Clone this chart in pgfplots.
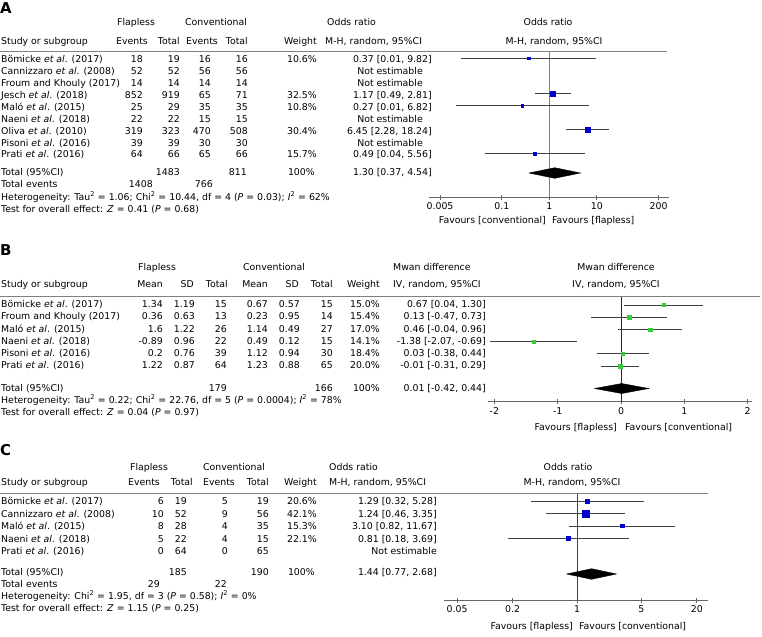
\documentclass[border=0pt]{standalone}
\usepackage{fontspec}
\setmainfont{DejaVu Sans}
\usepackage{pgfplots}
\pgfplotsset{compat=1.18}
\definecolor{fpblue}{RGB}{0,0,204}
\definecolor{fpgreen}{RGB}{51,204,51}
\newcommand\tf{\fontsize{9.4}{11}\selectfont}
\newcommand\ea{\textit{et al}.}
\newcommand\Lt[3]{\node[anchor=mid west] at (#1,#2) {#3};}
\newcommand\Rt[3]{\node[anchor=mid east] at (#1,#2) {#3};}
\newcommand\Ct[3]{\node[anchor=mid] at (#1,#2) {#3};}
\newcommand\sq{\textsuperscript{2}}
\pgfplotsset{
  fp/.style={scale only axis, axis x line*=bottom, axis y line=none,
    x axis line style={-,draw=black!60,line width=0.8bp},
    tick align=center, major tick length=5bp,
    xtick style={draw=black!60,line width=0.8bp}, ytick=\empty,
    xminorticks=false,
    xticklabel style={font=\tf, inner sep=0pt, yshift=-3bp}, clip=false},
  ci/.style={draw=black!75, line width=0.8bp, mark=none, forget plot},
  sqb/.style={only marks, mark=square*, color=fpblue, forget plot},
  sqg/.style={only marks, mark=square*, color=fpgreen, forget plot},
  dia/.style={fill=black, draw=black, line width=0.4bp, mark=none, forget plot},
}
\begin{document}
\begin{tikzpicture}
\path[use as bounding box] (0,0) rectangle (762bp,-637bp);

% ================= PANEL A plot =================
\begin{axis}[fp, at={(429bp,-197bp)}, anchor=south west, width=240bp, height=146bp,
  xmode=log, xmin=0.00293, xmax=331, ymin=-197, ymax=-51,
  xtick={0.005,0.1,1,10,200}, xticklabels={0.005,0.1,1,10,200}]
\addplot[draw=black!50, line width=1.5bp, forget plot] coordinates {(1,-51) (1,-197)};
% Bomicke
\addplot[ci] coordinates {(0.0139,-58) (9.82,-58)};
\addplot[sqb, mark size=1.2bp] coordinates {(0.37,-58)};
% Jesch
\addplot[ci] coordinates {(0.49,-93.7) (2.81,-93.7)};
\addplot[sqb, mark size=2.6bp] coordinates {(1.17,-93.7)};
% Malo
\addplot[ci] coordinates {(0.0107,-105.6) (6.82,-105.6)};
\addplot[sqb, mark size=1.2bp] coordinates {(0.27,-105.6)};
% Oliva
\addplot[ci] coordinates {(2.28,-129.4) (18.24,-129.4)};
\addplot[sqb, mark size=2.5bp] coordinates {(6.45,-129.4)};
% Prati
\addplot[ci] coordinates {(0.0432,-153.2) (5.56,-153.2)};
\addplot[sqb, mark size=1.5bp] coordinates {(0.49,-153.2)};
% Total
\addplot[dia] coordinates {(0.37,-173) (1.30,-167.7) (4.54,-173) (1.30,-178.3) (0.37,-173)};
\end{axis}

% ================= PANEL B plot =================
\begin{axis}[fp, at={(488bp,-401.7bp)}, anchor=south west, width=264bp, height=105.7bp,
  xmin=-2.101, xmax=2.069, ymin=-401.7, ymax=-296,
  xtick={-2,-1,0,1,2}, xticklabels={-2,-1,0,1,2}]
\addplot[draw=black!85, line width=0.8bp, forget plot] coordinates {(0,-296) (0,-401.7)};
\addplot[ci] coordinates {(0.04,-305) (1.30,-305)};
\addplot[sqg, mark size=1.6bp] coordinates {(0.67,-305)};
\addplot[ci] coordinates {(-0.47,-317.2) (0.73,-317.2)};
\addplot[sqg, mark size=1.6bp] coordinates {(0.13,-317.2)};
\addplot[ci] coordinates {(-0.04,-329.4) (0.96,-329.4)};
\addplot[sqg, mark size=1.7bp] coordinates {(0.46,-329.4)};
\addplot[ci] coordinates {(-2.07,-341.6) (-0.69,-341.6)};
\addplot[sqg, mark size=1.55bp] coordinates {(-1.38,-341.6)};
\addplot[ci] coordinates {(-0.38,-353.8) (0.44,-353.8)};
\addplot[sqg, mark size=1.75bp] coordinates {(0.03,-353.8)};
\addplot[ci] coordinates {(-0.31,-366) (0.29,-366)};
\addplot[sqg, mark size=1.8bp] coordinates {(-0.01,-366)};
\addplot[dia] coordinates {(-0.42,-388.5) (0.01,-383.5) (0.44,-388.5) (0.01,-393.5) (-0.42,-388.5)};
\end{axis}

% ================= PANEL C plot =================
\begin{axis}[fp, at={(444bp,-600bp)}, anchor=south west, width=264bp, height=107bp,
  xmode=log, xmin=0.0360, xmax=26.45, ymin=-600, ymax=-493,
  xtick={0.05,0.2,1,5,20}, xticklabels={0.05,0.2,1,5,20}]
\addplot[draw=black!75, line width=0.9bp, forget plot] coordinates {(1,-493) (1,-600)};
\addplot[ci] coordinates {(0.32,-501) (5.28,-501)};
\addplot[sqb, mark size=1.8bp] coordinates {(1.29,-501)};
\addplot[ci] coordinates {(0.46,-513.5) (3.35,-513.5)};
\addplot[sqb, mark size=3.2bp] coordinates {(1.24,-513.5)};
\addplot[ci] coordinates {(0.82,-526) (11.67,-526)};
\addplot[sqb, mark size=1.6bp] coordinates {(3.10,-526)};
\addplot[ci] coordinates {(0.18,-538.5) (3.69,-538.5)};
\addplot[sqb, mark size=1.9bp] coordinates {(0.81,-538.5)};
\addplot[dia] coordinates {(0.77,-574) (1.44,-568.7) (2.68,-574) (1.44,-579.3) (0.77,-574)};
\end{axis}

\begin{scope}[x=1bp,y=-1bp, every node/.style={font=\tf, inner sep=0pt}]
% rules
\draw[black!50, line width=1bp] (0,51) -- (667,51);
\draw[black!50, line width=1bp] (0,296) -- (760,296);
\draw[black!50, line width=1bp] (0,493) -- (708,493);

% ---------- Panel A text ----------
\node[anchor=mid west, font=\fontsize{15}{15}\selectfont\bfseries] at (0,11) {A};
\Lt{117}{23}{Flapless}
\Lt{185}{23}{Conventional}
\Lt{327}{23}{Odds ratio}
\Ct{548}{23}{Odds ratio}
\Lt{1}{42}{Study or subgroup}
\Rt{148}{42}{Events}
\Rt{180}{42}{Total}
\Rt{218}{42}{Events}
\Rt{248}{42}{Total}
\Rt{317}{42}{Weight}
\Lt{325}{42}{M-H, random, 95\%CI}
\Ct{554}{42}{M-H, random, 95\%CI}
% rows
\Lt{1}{60}{Bömicke \ea{} (2017)}\Rt{143}{60}{18}\Rt{180}{60}{19}\Rt{211}{60}{16}\Rt{248}{60}{16}\Rt{317}{60}{10.6\%}\Rt{432}{60}{0.37 [0.01, 9.82]}
\Lt{1}{71.9}{Cannizzaro \ea{} (2008)}\Rt{143}{71.9}{52}\Rt{180}{71.9}{52}\Rt{211}{71.9}{56}\Rt{248}{71.9}{56}\Rt{423}{71.9}{Not estimable}
\Lt{1}{83.8}{Froum and Khouly (2017)}\Rt{143}{83.8}{14}\Rt{180}{83.8}{14}\Rt{211}{83.8}{14}\Rt{248}{83.8}{14}\Rt{423}{83.8}{Not estimable}
\Lt{1}{95.7}{Jesch \ea{} (2018)}\Rt{143}{95.7}{852}\Rt{180}{95.7}{919}\Rt{211}{95.7}{65}\Rt{248}{95.7}{71}\Rt{317}{95.7}{32.5\%}\Rt{432}{95.7}{1.17 [0.49, 2.81]}
\Lt{1}{107.6}{Maló \ea{} (2015)}\Rt{143}{107.6}{25}\Rt{180}{107.6}{29}\Rt{211}{107.6}{35}\Rt{248}{107.6}{35}\Rt{317}{107.6}{10.8\%}\Rt{432}{107.6}{0.27 [0.01, 6.82]}
\Lt{1}{119.5}{Naeni \ea{} (2018)}\Rt{143}{119.5}{22}\Rt{180}{119.5}{22}\Rt{211}{119.5}{15}\Rt{248}{119.5}{15}\Rt{423}{119.5}{Not estimable}
\Lt{1}{131.4}{Oliva \ea{} (2010)}\Rt{143}{131.4}{319}\Rt{180}{131.4}{323}\Rt{211}{131.4}{470}\Rt{248}{131.4}{508}\Rt{317}{131.4}{30.4\%}\Rt{432}{131.4}{6.45 [2.28, 18.24]}
\Lt{1}{143.3}{Pisoni \ea{} (2016)}\Rt{143}{143.3}{39}\Rt{180}{143.3}{39}\Rt{211}{143.3}{30}\Rt{248}{143.3}{30}\Rt{423}{143.3}{Not estimable}
\Lt{1}{155.2}{Prati \ea{} (2016)}\Rt{143}{155.2}{64}\Rt{180}{155.2}{66}\Rt{211}{155.2}{65}\Rt{248}{155.2}{66}\Rt{317}{155.2}{15.7\%}\Rt{432}{155.2}{0.49 [0.04, 5.56]}
\Lt{1}{173}{Total (95\%CI)}\Rt{180}{173}{1483}\Rt{247}{173}{811}\Rt{315}{173}{100\%}\Rt{432}{173}{1.30 [0.37, 4.54]}
\Lt{1}{185}{Total events}\Rt{153}{185}{1408}\Rt{213}{185}{766}
\Lt{1}{197.5}{Heterogeneity: Tau\sq{} = 1.06; Chi\sq{} = 10.44, df = 4 (\textit{P} = 0.03); \textit{I}\sq{} = 62\%}
\Lt{1}{210}{Test for overall effect: \textit{Z} = 0.41 (\textit{P} = 0.68)}
\Rt{546}{221}{Favours [conventional]}
\Lt{552}{221}{Favours [flapless]}

% ---------- Panel B text ----------
\node[anchor=mid west, font=\fontsize{15}{15}\selectfont\bfseries] at (0,253) {B};
\Lt{138}{268}{Flapless}
\Lt{243}{268}{Conventional}
\Lt{393}{268}{Mwan difference}
\Ct{616}{268}{Mwan difference}
\Lt{1}{285}{Study or subgroup}
\Rt{163}{285}{Mean}
\Rt{194}{285}{SD}
\Rt{228}{285}{Total}
\Rt{268}{285}{Mean}
\Rt{299}{285}{SD}
\Rt{333}{285}{Total}
\Rt{380}{285}{Weight}
\Lt{393}{285}{IV, random, 95\%CI}
\Ct{616}{285}{IV, random, 95\%CI}
\Lt{1}{305}{Bömicke \ea{} (2017)}\Rt{163}{305}{1.34}\Rt{195}{305}{1.19}\Rt{227}{305}{15}\Rt{268}{305}{0.67}\Rt{300}{305}{0.57}\Rt{333}{305}{15}\Rt{380}{305}{15.0\%}\Rt{486}{305}{0.67 [0.04, 1.30]}
\Lt{1}{317.2}{Froum and Khouly (2017)}\Rt{163}{317.2}{0.36}\Rt{195}{317.2}{0.63}\Rt{227}{317.2}{13}\Rt{268}{317.2}{0.23}\Rt{300}{317.2}{0.95}\Rt{333}{317.2}{14}\Rt{380}{317.2}{15.4\%}\Rt{486}{317.2}{0.13 [-0.47, 0.73]}
\Lt{1}{329.4}{Maló \ea{} (2015)}\Rt{163}{329.4}{1.6}\Rt{195}{329.4}{1.22}\Rt{227}{329.4}{26}\Rt{268}{329.4}{1.14}\Rt{300}{329.4}{0.49}\Rt{333}{329.4}{27}\Rt{380}{329.4}{17.0\%}\Rt{486}{329.4}{0.46 [-0.04, 0.96]}
\Lt{1}{341.6}{Naeni \ea{} (2018)}\Rt{163}{341.6}{-0.89}\Rt{195}{341.6}{0.96}\Rt{227}{341.6}{22}\Rt{268}{341.6}{0.49}\Rt{300}{341.6}{0.12}\Rt{333}{341.6}{15}\Rt{380}{341.6}{14.1\%}\Rt{486}{341.6}{-1.38 [-2.07, -0.69]}
\Lt{1}{353.8}{Pisoni \ea{} (2016)}\Rt{163}{353.8}{0.2}\Rt{195}{353.8}{0.76}\Rt{227}{353.8}{39}\Rt{268}{353.8}{1.12}\Rt{300}{353.8}{0.94}\Rt{333}{353.8}{30}\Rt{380}{353.8}{18.4\%}\Rt{486}{353.8}{0.03 [-0.38, 0.44]}
\Lt{1}{366}{Prati \ea{} (2016)}\Rt{163}{366}{1.22}\Rt{195}{366}{0.87}\Rt{227}{366}{64}\Rt{268}{366}{1.23}\Rt{300}{366}{0.88}\Rt{333}{366}{65}\Rt{380}{366}{20.0\%}\Rt{486}{366}{-0.01 [-0.31, 0.29]}
\Lt{1}{388.5}{Total (95\%CI)}\Rt{227}{388.5}{179}\Rt{333}{388.5}{166}\Rt{380}{388.5}{100\%}\Rt{486}{388.5}{0.01 [-0.42, 0.44]}
\Lt{1}{400.5}{Heterogeneity: Tau\sq{} = 0.22; Chi\sq{} = 22.76, df = 5 (\textit{P} = 0.0004); \textit{I}\sq{} = 78\%}
\Lt{1}{413}{Test for overall effect: \textit{Z} = 0.04 (\textit{P} = 0.97)}
\Rt{617}{428}{Favours [flapless]}
\Lt{625}{428}{Favours [conventional]}

% ---------- Panel C text ----------
\node[anchor=mid west, font=\fontsize{15}{15}\selectfont\bfseries] at (0,453) {C};
\Lt{130}{468}{Flapless}
\Lt{203}{468}{Conventional}
\Lt{329}{468}{Odds ratio}
\Ct{568}{468}{Odds ratio}
\Lt{1}{483}{Study or subgroup}
\Rt{160}{483}{Events}
\Rt{193}{483}{Total}
\Rt{235}{483}{Events}
\Rt{269}{483}{Total}
\Rt{317}{483}{Weight}
\Lt{329}{483}{M-H, random, 95\%CI}
\Ct{572}{483}{M-H, random, 95\%CI}
\Lt{1}{502}{Bömicke \ea{} (2017)}\Rt{164}{502}{6}\Rt{187}{502}{19}\Rt{228}{502}{5}\Rt{269}{502}{19}\Rt{317}{502}{20.6\%}\Rt{437}{502}{1.29 [0.32, 5.28]}
\Lt{1}{514.5}{Cannizzaro \ea{} (2008)}\Rt{164}{514.5}{10}\Rt{187}{514.5}{52}\Rt{228}{514.5}{9}\Rt{269}{514.5}{56}\Rt{317}{514.5}{42.1\%}\Rt{437}{514.5}{1.24 [0.46, 3.35]}
\Lt{1}{527}{Maló \ea{} (2015)}\Rt{164}{527}{8}\Rt{187}{527}{28}\Rt{228}{527}{4}\Rt{269}{527}{35}\Rt{317}{527}{15.3\%}\Rt{437}{527}{3.10 [0.82, 11.67]}
\Lt{1}{539.5}{Naeni \ea{} (2018)}\Rt{164}{539.5}{5}\Rt{187}{539.5}{22}\Rt{228}{539.5}{4}\Rt{269}{539.5}{15}\Rt{317}{539.5}{22.1\%}\Rt{437}{539.5}{0.81 [0.18, 3.69]}
\Lt{1}{552}{Prati \ea{} (2016)}\Rt{164}{552}{0}\Rt{187}{552}{64}\Rt{228}{552}{0}\Rt{269}{552}{65}\Rt{437}{552}{Not estimable}
\Lt{1}{573}{Total (95\%CI)}\Rt{187}{573}{185}\Rt{269}{573}{190}\Rt{315}{573}{100\%}\Rt{437}{573}{1.44 [0.77, 2.68]}
\Lt{1}{585}{Total events}\Rt{160}{585}{29}\Rt{227}{585}{22}
\Lt{1}{596.5}{Heterogeneity: Chi\sq{} = 1.95, df = 3 (\textit{P} = 0.58); \textit{I}\sq{} = 0\%}
\Lt{1}{608.5}{Test for overall effect: \textit{Z} = 1.15 (\textit{P} = 0.25)}
\Rt{573}{627}{Favours [flapless]}
\Lt{579}{627}{Favours [conventional]}
\end{scope}
\end{tikzpicture}
\end{document}
